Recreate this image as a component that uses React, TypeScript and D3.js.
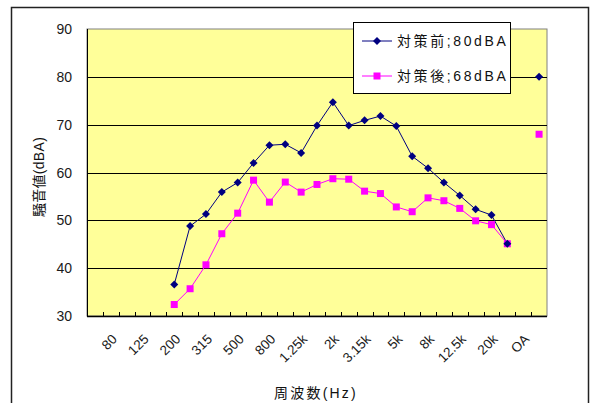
import React from "react";
import * as d3 from "d3";

const categories = ["63","80","100","125","160","200","250","315","400","500","630","800","1k","1.25k","1.6k","2k","2.5k","3.15k","4k","5k","6.3k","8k","10k","12.5k","16k","20k","25k","OA",""];
const beforeValues: (number | null)[] = [null,null,null,null,null,36.6,48.8,51.3,55.9,57.9,62.0,65.7,65.9,64.1,69.8,74.7,69.8,70.9,71.8,69.7,63.4,60.9,57.9,55.2,52.3,51.1,45.1,null,80.0];
const afterValues: (number | null)[] = [null,null,null,null,null,32.4,35.7,40.7,47.2,51.5,58.4,53.8,58.0,55.9,57.5,58.7,58.6,56.1,55.6,52.8,51.8,54.7,54.1,52.5,49.9,49.1,45.1,null,68.0];
const yTicks = [30,40,50,60,70,80,90];
const seriesNames = ["対策前;80dBA","対策後;68dBA"];
const xTitle = "周波数(Hz)";
const yTitle = "騒音値(dBA)";

const FONT = "'Liberation Sans', 'Noto Sans CJK JP', sans-serif";

export default function App() {
  const left = 87, right = 547, top = 29, bottom = 316;
  const idx = categories.map((_, i) => String(i));
  const x = d3.scaleBand<string>().domain(idx).range([left, right]).paddingInner(0).paddingOuter(0);
  const y = d3.scaleLinear().domain([30, 90]).range([bottom, top]);
  const cx = (i: number) => (x(String(i)) as number) + x.bandwidth() / 2;

  const line = d3.line<number | null>()
    .defined((d) => d != null)
    .x((_, i) => cx(i))
    .y((d) => y(d as number));

  const diamond = (px: number, py: number, r = 4) =>
    `M${px},${py - r}L${px + r},${py}L${px},${py + r}L${px - r},${py}Z`;

  const navy = "#000080";
  const pink = "#FF00FF";

  return (
    <svg width={591} height={403} style={{ position: "absolute", left: 0, top: 0, background: "#fff" }}>
      <rect x={11.5} y={7.5} width={577} height={420} fill="#fff" stroke="#222" strokeWidth={1.5} />
      <rect x={left} y={top} width={right - left} height={bottom - top} fill="#FFFF99" stroke="#808080" strokeWidth={1} />
      {yTicks.filter((t) => t !== 30 && t !== 90).map((t) => (
        <line key={t} x1={left} x2={right} y1={Math.round(y(t)) + 0.5} y2={Math.round(y(t)) + 0.5} stroke="#000" strokeWidth={1} />
      ))}
      <line x1={left + 0.5} x2={left + 0.5} y1={top} y2={bottom} stroke="#000" strokeWidth={1} />
      <line x1={left} x2={right} y1={bottom + 0.5} y2={bottom + 0.5} stroke="#000" strokeWidth={1.5} />
      {categories.map((_, i) => i > 0 ? (
        <line key={i} x1={Math.round(x(String(i)) as number) + 0.5} x2={Math.round(x(String(i)) as number) + 0.5} y1={bottom - 4} y2={bottom} stroke="#000" strokeWidth={1} />
      ) : null)}
      {yTicks.map((t) => (
        <text key={t} x={72} y={y(t)} dy="0.36em" textAnchor="end" fontFamily={FONT} fontSize={14} fill="#1a1a1a">{t}</text>
      ))}
      {categories.map((c, i) => i % 2 === 1 ? (
        <text key={i} transform={`translate(${cx(i) + 7},${bottom + 24}) rotate(-45)`} textAnchor="end" fontFamily={FONT} fontSize={13.5} fill="#1a1a1a">{c}</text>
      ) : null)}
      <path d={line(afterValues) || ""} fill="none" stroke={pink} strokeWidth={1} />
      <path d={line(beforeValues) || ""} fill="none" stroke={navy} strokeWidth={1} />
      {afterValues.map((v, i) => v == null ? null : (
        <rect key={i} x={cx(i) - 3.5} y={y(v) - 3.5} width={7} height={7} fill={pink} />
      ))}
      {beforeValues.map((v, i) => v == null ? null : (
        <path key={i} d={diamond(cx(i), y(v))} fill={navy} />
      ))}
      <rect x={353.5} y={22.5} width={157} height={71} fill="#fff" stroke="#000" strokeWidth={1} />
      <line x1={362} x2={392} y1={41} y2={41} stroke={navy} strokeWidth={1} />
      <path d={diamond(377, 41)} fill={navy} />
      <text x={397} y={41} dy="0.36em" fontFamily={FONT} fontSize={14} letterSpacing={2.6} fill="#111">{seriesNames[0]}</text>
      <line x1={362} x2={392} y1={76} y2={76} stroke={pink} strokeWidth={1} />
      <rect x={373.5} y={72.5} width={7} height={7} fill={pink} />
      <text x={397} y={76} dy="0.36em" fontFamily={FONT} fontSize={14} letterSpacing={2.6} fill="#111">{seriesNames[1]}</text>
      <text x={316} y={393} dy="0.36em" textAnchor="middle" fontFamily={FONT} fontSize={14} letterSpacing={2.2} fill="#111">{xTitle}</text>
      <text transform={`translate(39,177) rotate(-90)`} textAnchor="middle" dy="0.36em" fontFamily={FONT} fontSize={14} letterSpacing={0.3} fill="#111">{yTitle}</text>
    </svg>
  );
}
